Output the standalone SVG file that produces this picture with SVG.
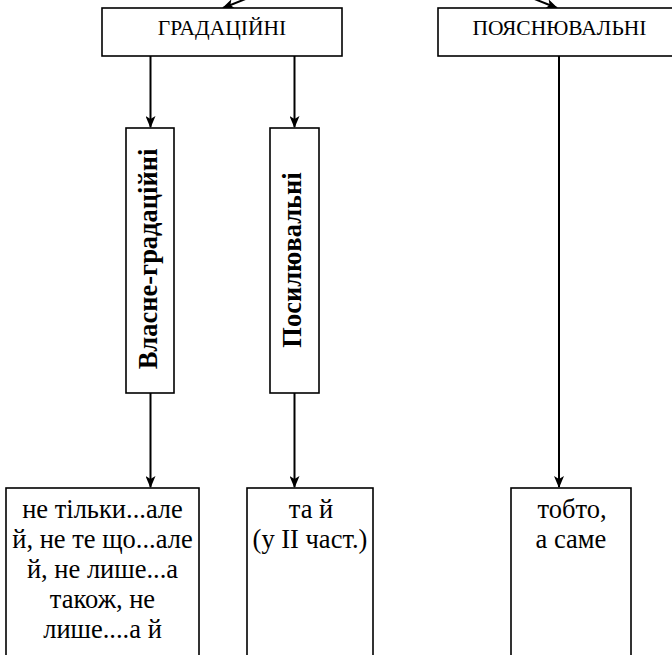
<svg xmlns="http://www.w3.org/2000/svg" width="672" height="655" viewBox="0 0 672 655">
  <style>
    .box { fill: #ffffff; stroke: #000000; stroke-width: 1.6; }
    .lbl { font-family: "Liberation Serif", "Times New Roman", serif; fill: #000000; text-anchor: middle; }
    .hdr { font-size: 21.5px; }
    .vert { font-size: 26.5px; font-weight: bold; }
    .body { font-size: 26.5px; }
    .edge { stroke: #000000; stroke-width: 2; fill: none; marker-end: url(#arrow); }
  </style>
  <defs>
    <marker id="arrow" viewBox="0 0 12 10" refX="11" refY="5" markerWidth="6" markerHeight="5" orient="auto" markerUnits="strokeWidth">
      <path d="M0,0 L12,5 L0,10 L3,5 Z" fill="#000000"/>
    </marker>
  </defs>
  <rect width="672" height="655" fill="#ffffff"/>

  <g id="connectors">
    <line class="edge" x1="283" y1="-16" x2="223" y2="8"/>
    <line class="edge" x1="497" y1="-16" x2="557" y2="8"/>
    <line class="edge" x1="150.5" y1="56" x2="150.5" y2="127"/>
    <line class="edge" x1="294.5" y1="56" x2="294.5" y2="127"/>
    <line class="edge" x1="150.5" y1="393" x2="150.5" y2="487"/>
    <line class="edge" x1="294.5" y1="393" x2="294.5" y2="487"/>
    <line class="edge" x1="559" y1="56" x2="559" y2="487"/>
  </g>

  <g id="gradatsiini">
    <rect class="box" x="102" y="8" width="240" height="48"/>
    <text class="lbl hdr" x="222" y="35">ГРАДАЦІЙНІ</text>
  </g>
  <g id="poiasniuvalni">
    <rect class="box" x="438" y="8" width="240" height="48"/>
    <text class="lbl hdr" x="559.5" y="35">ПОЯСНЮВАЛЬНІ</text>
  </g>

  <g id="vlasne-gradatsiini">
    <rect class="box" x="126" y="128" width="48" height="265"/>
    <text class="lbl vert" transform="translate(157,259) rotate(-90)">Власне-градаційні</text>
  </g>
  <g id="posyliuvalni">
    <rect class="box" x="270" y="128" width="49" height="265"/>
    <text class="lbl vert" transform="translate(301,260) rotate(-90)">Посилювальні</text>
  </g>

  <g id="spoluchnyky-1">
    <rect class="box" x="6" y="488" width="193" height="180"/>
    <text class="lbl body" x="102.5" y="518">не тільки...але</text>
    <text class="lbl body" x="102.5" y="548">й, не те що...але</text>
    <text class="lbl body" x="102.5" y="578">й, не лише...а</text>
    <text class="lbl body" x="102.5" y="608">також, не</text>
    <text class="lbl body" x="102.5" y="638">лише....а й</text>
  </g>
  <g id="spoluchnyky-2">
    <rect class="box" x="247" y="488" width="126" height="180"/>
    <text class="lbl body" x="311" y="518">та й</text>
    <text class="lbl body" x="310" y="548">(у II част.)</text>
  </g>
  <g id="spoluchnyky-3">
    <rect class="box" x="511" y="488" width="120" height="180"/>
    <text class="lbl body" x="572" y="518">тобто,</text>
    <text class="lbl body" x="571" y="548">а саме</text>
  </g>
</svg>
